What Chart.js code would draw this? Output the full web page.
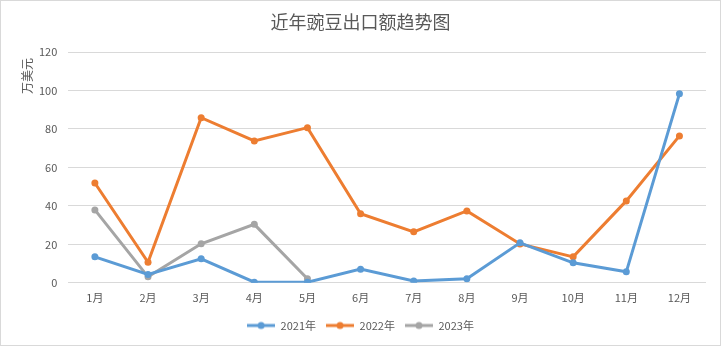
<!DOCTYPE html>
<html>
<head>
<meta charset="utf-8">
<script src="https://cdn.jsdelivr.net/npm/chart.js@4/dist/chart.umd.min.js"></script>
<style>
  html, body { margin: 0; padding: 0; background: #fff; }
  #wrap { position: relative; width: 721px; height: 346px; box-sizing: border-box; border: 1px solid #d9d9d9; background: #fff; }
  #chart { display: block; }
</style>
</head>
<body>
<div id="wrap"><canvas id="chart" width="719" height="344"></canvas></div>
<script>
// Months on the category axis
const months = ['1月', '2月', '3月', '4月', '5月', '6月', '7月', '8月', '9月', '10月', '11月', '12月'];

// Pea export value per month, 万美元
const exports2021 = [13.5, 4.3, 12.5, 0.3, 0.3, 7.1, 1.0, 2.1, 20.8, 10.4, 5.7, 98.3];
const exports2022 = [51.9, 10.7, 85.9, 73.8, 80.7, 35.9, 26.5, 37.4, 20.2, 13.5, 42.6, 76.4];
const exports2023 = [37.9, 3.1, 20.3, 30.4, 2.1];

const seriesNames = ['2021年', '2022年', '2023年'];
const seriesColors = ['#5B9BD5', '#ED7D31', '#A5A5A5'];

// Value axis ticks
const yMin = 0;
const yMax = 120;
const yStep = 20;
const yUnit = '万美元';

const textColor = '#595959';
const fontFamily = '"Noto Sans CJK SC", "Noto Sans", sans-serif';

// Legend swatch: a short line with a dot in the middle
function legendSwatch(color) {
  const c = document.createElement('canvas');
  c.width = 28; c.height = 10;
  const g = c.getContext('2d');
  g.strokeStyle = color;
  g.lineWidth = 3;
  g.beginPath(); g.moveTo(0, 5); g.lineTo(28, 5); g.stroke();
  g.fillStyle = color;
  g.beginPath(); g.arc(14, 5, 3.5, 0, Math.PI * 2); g.fill();
  return c;
}
const swatches = seriesColors.map(legendSwatch);

// Unit label set vertically near the top of the value axis
const unitLabel = {
  id: 'unitLabel',
  afterDraw(chart) {
    const ctx = chart.ctx;
    const top = chart.chartArea.top;
    ctx.save();
    ctx.translate(26.5, top + 24);
    ctx.rotate(-Math.PI / 2);
    ctx.fillStyle = textColor;
    ctx.font = '12px ' + fontFamily;
    ctx.textAlign = 'center';
    ctx.textBaseline = 'middle';
    ctx.fillText(yUnit, 0, 0);
    ctx.restore();
  }
};

function lineSeries(label, data, color) {
  return {
    label: label,
    data: data,
    borderColor: color,
    backgroundColor: color,
    borderWidth: 3,
    pointRadius: 3.5,
    pointHoverRadius: 3.5,
    pointBackgroundColor: color,
    pointBorderColor: color,
    pointBorderWidth: 0,
    tension: 0,
    fill: false
  };
}

new Chart(document.getElementById('chart'), {
  type: 'line',
  data: {
    labels: months,
    datasets: [
      lineSeries(seriesNames[0], exports2021, seriesColors[0]),
      lineSeries(seriesNames[1], exports2022, seriesColors[1]),
      lineSeries(seriesNames[2], exports2023, seriesColors[2])
    ]
  },
  options: {
    responsive: false,
    animation: false,
    layout: { padding: { left: 14, right: 14, top: 0, bottom: 4 } },
    plugins: {
      title: {
        display: true,
        text: '近年豌豆出口额趋势图',
        color: textColor,
        font: { family: fontFamily, size: 18, weight: 'normal' },
        padding: { top: 10, bottom: 19.5 }
      },
      legend: {
        position: 'bottom',
        labels: {
          color: textColor,
          font: { family: fontFamily, size: 11 },
          usePointStyle: true,
          pointStyleWidth: 28,
          padding: 10,
          generateLabels: function (chart) {
            const items = Chart.defaults.plugins.legend.labels.generateLabels(chart);
            items.forEach(function (it, i) { it.pointStyle = swatches[i]; });
            return items;
          }
        }
      },
      tooltip: { enabled: false }
    },
    scales: {
      x: {
        offset: true,
        grid: { display: false, drawTicks: false },
        border: { display: false },
        ticks: {
          color: textColor,
          font: { family: fontFamily, size: 11 },
          padding: 8,
          maxRotation: 0
        },
        afterFit(scale) { scale.height -= 2; }
      },
      y: {
        min: yMin,
        max: yMax,
        grid: { color: '#d9d9d9', lineWidth: 1, drawTicks: false },
        border: { display: false },
        ticks: {
          stepSize: yStep,
          color: textColor,
          font: { family: fontFamily, size: 11 },
          padding: 11
        },
        afterFit(scale) { scale.width += 13; }
      }
    }
  },
  plugins: [unitLabel]
});
</script>
</body>
</html>
